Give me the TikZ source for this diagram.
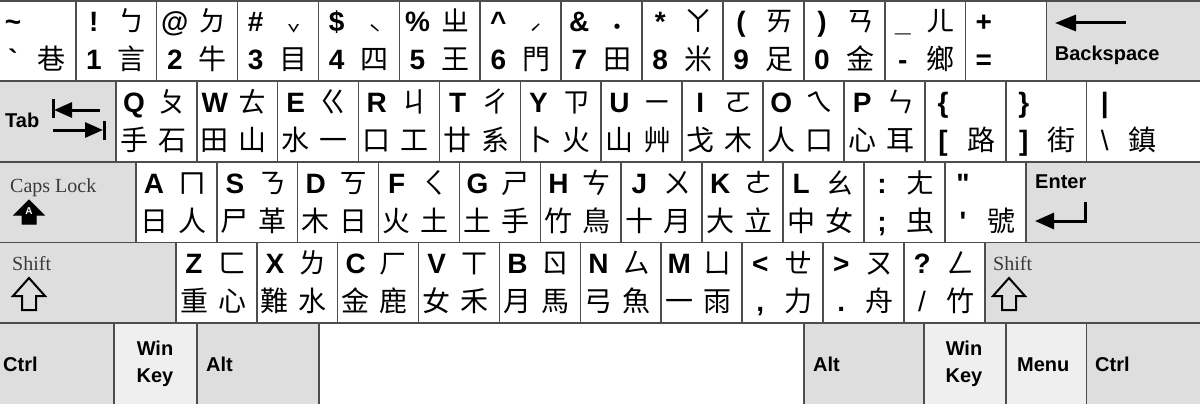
\documentclass[tikz,border=0pt]{standalone}
\usepackage{fontspec}
\setmainfont{Liberation Sans}
\newfontfamily\cjkfont{Noto Sans CJK TC}
\newfontfamily\seriffont{Liberation Serif}
\usetikzlibrary{calc,arrows.meta}

\definecolor{keyline}{HTML}{4D4D4D}
\definecolor{modgray}{HTML}{DEDEDE}
\definecolor{wingray}{HTML}{EFEFEF}
\definecolor{captext}{HTML}{3A3A3A}

\tikzset{
  keybox/.style={rectangle,draw=keyline,line width=1.6pt,fill=white,minimum width=80.9pt,minimum height=80.5pt,inner sep=0pt,anchor=north west},
  modkey/.style={keybox,fill=modgray},
  winkey/.style={keybox,fill=wingray},
  latin/.style={inner sep=0pt,anchor=base,font=\fontsize{28}{28}\selectfont\bfseries},
  hanzi/.style={inner sep=0pt,anchor=base,font=\fontsize{28}{28}\selectfont\cjkfont},
  modlabel/.style={inner sep=0pt,anchor=base west,font=\fontsize{20}{20}\selectfont\bfseries},
  seriflabel/.style={inner sep=0pt,anchor=base west,text=captext,font=\fontsize{20}{20}\selectfont\seriffont},
  icon/.style={line width=3pt},
  bigtip/.style={-{Triangle[length=21pt,width=16pt]}},
}
% tone marks sit lower and smaller
\newcommand\tone[1]{\raisebox{-11pt}{\fontsize{22}{22}\selectfont #1}}

% key with a latin sign in the lower left corner
\newcommand\numkey[8][]{%
  \node[keybox,#1] (#2) at (#3,#4) {};
  \node[latin] (#2tl) at ($(#2.north west)+(19,32)$) {#5};
  \node[hanzi] (#2tr) at ($(#2.north west)+(57,32)$) {#6};
  \node[latin] (#2bl) at ($(#2.north west)+(19,70)$) {#7};
  \node[hanzi] (#2br) at ($(#2.north west)+(57,70)$) {#8};
}
% letter key: cangjie and dayi roots below
\newcommand\letkey[7]{%
  \node[keybox] (#1) at (#2,#3) {};
  \node[latin] (#1tl) at ($(#1.north west)+(19,32)$) {#4};
  \node[hanzi] (#1tr) at ($(#1.north west)+(57,32)$) {#5};
  \node[hanzi] (#1bl) at ($(#1.north west)+(19,70)$) {#6};
  \node[hanzi] (#1br) at ($(#1.north west)+(57,70)$) {#7};
}

\begin{document}
\begin{tikzpicture}[x=1pt,y=-1pt]
    \useasboundingbox (0,0) rectangle (1200,404);
    \clip (0,0) rectangle (1200,404);

    % number row
    \numkey{kgrave}{-6}{0}{\textasciitilde}{}{\textasciigrave}{巷}
    \numkey{k1}{74.9}{0}{!}{ㄅ}{1}{言}
    \numkey{k2}{155.8}{0}{@}{ㄉ}{2}{牛}
    \numkey{k3}{236.7}{0}{\#}{\tone{ˇ}}{3}{目}
    \numkey{k4}{317.6}{0}{\$}{\tone{ˋ}}{4}{四}
    \numkey{k5}{398.5}{0}{\%}{ㄓ}{5}{王}
    \numkey{k6}{479.4}{0}{\textasciicircum}{\tone{ˊ}}{6}{門}
    \numkey{k7}{560.3}{0}{\&}{\raisebox{-6pt}{˙}}{7}{田}
    \numkey{k8}{641.2}{0}{*}{ㄚ}{8}{米}
    \numkey{k9}{722.1}{0}{(}{ㄞ}{9}{足}
    \numkey{k0}{803}{0}{)}{ㄢ}{0}{金}
    \numkey{kminus}{883.9}{0}{\_}{ㄦ}{-}{鄉}
    \numkey{kequal}{964.8}{0}{+}{}{=}{}
    \node[modkey,minimum width=160pt] (kback) at (1045.7,0) {};
    \node[modlabel] (tback) at ($(kback.north west)+(9,60)$) {Backspace};
    \draw[icon,bigtip] (1126,23) -- (1055,23);

    % top letter row
    \node[modkey,minimum width=121pt] (ktab) at (-6,80.5) {};
    \node[modlabel] (ttab) at (5,128) {Tab};
    \draw[line width=3pt] (53,99) -- (53,118);
    \draw[icon,-{Triangle[length=18pt,width=15pt]}] (100,110) -- (54,110);
    \draw[icon,-{Triangle[length=18pt,width=15pt]}] (53,130) -- (103,130);
    \draw[line width=3pt] (104,121) -- (104,140);
    \letkey{kq}{115}{80.5}{Q}{ㄆ}{手}{石}
    \letkey{kw}{195.9}{80.5}{W}{ㄊ}{田}{山}
    \letkey{ke}{276.8}{80.5}{E}{ㄍ}{水}{一}
    \letkey{kr}{357.7}{80.5}{R}{ㄐ}{口}{工}
    \letkey{kt}{438.6}{80.5}{T}{ㄔ}{廿}{系}
    \letkey{ky}{519.5}{80.5}{Y}{ㄗ}{卜}{火}
    \letkey{ku}{600.4}{80.5}{U}{ㄧ}{山}{艸}
    \letkey{ki}{681.3}{80.5}{I}{ㄛ}{戈}{木}
    \letkey{ko}{762.2}{80.5}{O}{ㄟ}{人}{口}
    \letkey{kp}{843.1}{80.5}{P}{ㄣ}{心}{耳}
    \numkey{klbrack}{924}{80.5}{\{}{}{[}{路}
    \numkey{krbrack}{1004.9}{80.5}{\}}{}{]}{街}
    \numkey[minimum width=121pt]{kbslash}{1085.8}{80.5}{|}{}{\mdseries\textbackslash}{鎮}

    % home row
    \node[modkey,minimum width=141pt] (kcaps) at (-6,161) {};
    \node[seriflabel] (tcaps) at (10,192) {Caps Lock};
    \filldraw[line width=1pt,line join=miter] (14,215) -- (29,200) -- (44,215) -- (36,215) -- (36,224) -- (22,224) -- (22,215) -- cycle;
    \node[inner sep=0pt,text=white,font=\fontsize{10}{10}\selectfont\bfseries] (tcapsA) at (29,211) {A};
    \letkey{ka}{135}{161}{A}{ㄇ}{日}{人}
    \letkey{ks}{215.9}{161}{S}{ㄋ}{尸}{革}
    \letkey{kd}{296.8}{161}{D}{ㄎ}{木}{日}
    \letkey{kf}{377.7}{161}{F}{ㄑ}{火}{土}
    \letkey{kg}{458.6}{161}{G}{ㄕ}{土}{手}
    \letkey{kh}{539.5}{161}{H}{ㄘ}{竹}{鳥}
    \letkey{kj}{620.4}{161}{J}{ㄨ}{十}{月}
    \letkey{kk}{701.3}{161}{K}{ㄜ}{大}{立}
    \letkey{kl}{782.2}{161}{L}{ㄠ}{中}{女}
    \numkey{ksemi}{863.1}{161}{:}{ㄤ}{;}{虫}
    \numkey{kquote}{944}{161}{\textquotedbl}{}{\textquotesingle}{號}
    \node[modkey,minimum width=182pt] (kenter) at (1024.9,161) {};
    \node[modlabel] (tenter) at (1035,188) {Enter};
    \draw[icon,line join=miter,-{Triangle[length=19pt,width=16pt]}] (1085,202) -- (1085,221) -- (1035,221);

    % bottom letter row
    \node[modkey,minimum width=181pt] (klshift) at (-6,241.5) {};
    \node[seriflabel] (tlshift) at (12,270) {Shift};
    \draw[line width=2pt,line join=miter] (13,296) -- (29,278) -- (45,296) -- (36,296) -- (36,310) -- (22,310) -- (22,296) -- cycle;
    \letkey{kz}{175}{241.5}{Z}{ㄈ}{重}{心}
    \letkey{kx}{255.9}{241.5}{X}{ㄌ}{難}{水}
    \letkey{kc}{336.8}{241.5}{C}{ㄏ}{金}{鹿}
    \letkey{kv}{417.7}{241.5}{V}{ㄒ}{女}{禾}
    \letkey{kb}{498.6}{241.5}{B}{ㄖ}{月}{馬}
    \letkey{kn}{579.5}{241.5}{N}{ㄙ}{弓}{魚}
    \letkey{km}{660.4}{241.5}{M}{ㄩ}{一}{雨}
    \numkey{kcomma}{741.3}{241.5}{<}{ㄝ}{,}{力}
    \numkey{kperiod}{822.2}{241.5}{>}{ㄡ}{.}{舟}
    \numkey{kslash}{903.1}{241.5}{?}{ㄥ}{\mdseries /}{竹}
    \node[modkey,minimum width=222pt] (krshift) at (984,241.5) {};
    \node[seriflabel] (trshift) at (993,270) {Shift};
    \draw[line width=2pt,line join=miter] (993,296) -- (1009,278) -- (1025,296) -- (1016,296) -- (1016,310) -- (1002,310) -- (1002,296) -- cycle;

    % space row
    \node[modkey,minimum width=119pt,minimum height=84pt] (klctrl) at (-6,322) {};
    \node[winkey,minimum width=83pt,minimum height=84pt] (klwin) at (113,322) {};
    \node[modkey,minimum width=122pt,minimum height=84pt] (klalt) at (196,322) {};
    \node[keybox,minimum width=485pt,minimum height=84pt] (kspace) at (318,322) {};
    \node[modkey,minimum width=120pt,minimum height=84pt] (kralt) at (803,322) {};
    \node[winkey,minimum width=81.9pt,minimum height=84pt] (krwin) at (923,322) {};
    \node[winkey,minimum width=80.9pt,minimum height=84pt] (kmenu) at (1004.9,322) {};
    \node[modkey,minimum width=121pt,minimum height=84pt] (krctrl) at (1085.8,322) {};
    \node[modlabel] (tlctrl) at (3,371) {Ctrl};
    \node[modlabel,anchor=base] (tlwin) at (155,355) {Win};
    \node[modlabel,anchor=base] (tlkey) at (155,382) {Key};
    \node[modlabel] (tlalt) at (206,371) {Alt};
    \node[modlabel] (tralt) at (813,371) {Alt};
    \node[modlabel,anchor=base] (trwin) at (964,355) {Win};
    \node[modlabel,anchor=base] (trkey) at (964,382) {Key};
    \node[modlabel] (tmenu) at (1017,371) {Menu};
    \node[modlabel] (trctrl) at (1095,371) {Ctrl};
\end{tikzpicture}
\end{document}
